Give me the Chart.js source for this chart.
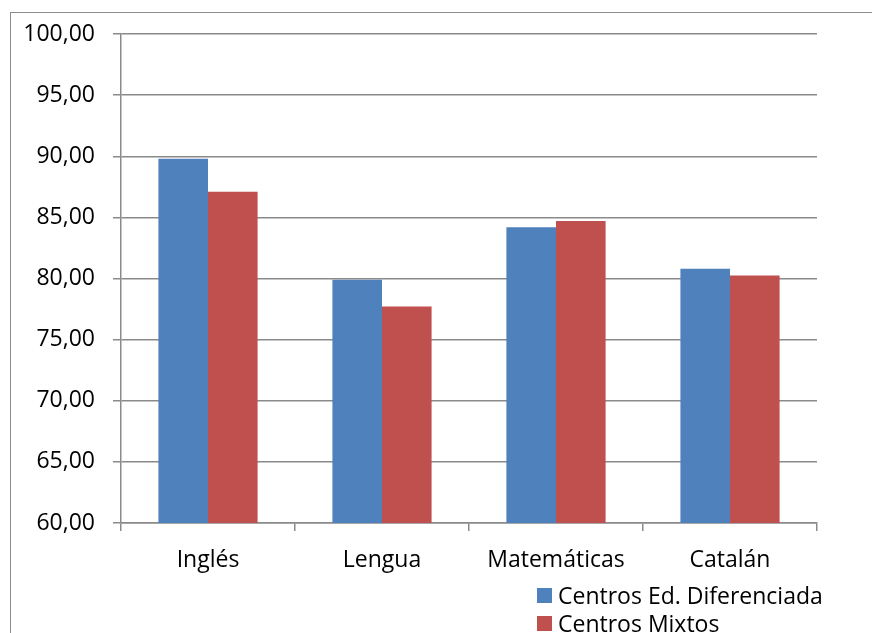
<!DOCTYPE html>
<html>
<head>
<meta charset="utf-8">
<script src="https://cdn.jsdelivr.net/npm/chart.js@4"></script>
<style>
  html, body { margin: 0; padding: 0; background: #fff; overflow: hidden; }
  #wrap { position: relative; width: 872px; height: 633px; }
  #frame { position: absolute; left: 10px; top: 12px; width: 900px; height: 700px; border: 1px solid #8c8c8c; box-sizing: border-box; }
  canvas { position: absolute; left: 0; top: 0; }
  #legend { position: absolute; left: 537px; top: 581px; font-family: "Open Sans", sans-serif; font-size: 23px; color: #000; line-height: 1; }
  .item { display: flex; align-items: center; height: 28px; }
  .box { width: 15px; height: 15px; margin-right: 6px; }
</style>
</head>
<body>
<div id="wrap">
  <div id="frame"></div>
  <canvas id="c" width="872" height="633"></canvas>
  <div id="legend"></div>
</div>
<script>
// Subjects and average scores per school type
const categories = ["Inglés", "Lengua", "Matemáticas", "Catalán"];
const seriesNames = ["Centros Ed. Diferenciada", "Centros Mixtos"];
const diferenciada = [89.8, 79.9, 84.2, 80.8];
const mixtos = [87.1, 77.7, 84.7, 80.25];
const colors = ["#4F81BD", "#C0504D"];
const yMin = 60, yMax = 100, yStep = 5;

const font = { family: "'Open Sans', sans-serif", size: 23 };
const gridColor = "#8a8a8a";

new Chart(document.getElementById("c"), {
  type: "bar",
  data: {
    labels: categories,
    datasets: [
      { label: seriesNames[0], data: diferenciada, backgroundColor: colors[0], borderWidth: 0 },
      { label: seriesNames[1], data: mixtos, backgroundColor: colors[1], borderWidth: 0 }
    ]
  },
  options: {
    responsive: false,
    animation: false,
    layout: { padding: { left: 0, top: 34, right: 55, bottom: 0 } },
    plugins: { legend: { display: false }, tooltip: { enabled: false } },
    datasets: { bar: { barPercentage: 1, categoryPercentage: 0.57 } },
    scales: {
      x: {
        grid: { display: true, drawOnChartArea: false, drawTicks: true, tickLength: 8, color: gridColor, lineWidth: 1.5, offset: true },
        border: { display: true, color: gridColor, width: 1.5 },
        ticks: { color: "#000", font: font, padding: 16 },
        afterFit: s => { s.height = 110; }
      },
      y: {
        min: yMin, max: yMax,
        grid: { color: gridColor, lineWidth: 1.5, tickLength: 8, drawTicks: true },
        border: { display: true, color: gridColor, width: 1.5 },
        ticks: {
          stepSize: yStep, color: "#000", font: font, padding: 18,
          callback: v => v.toFixed(2).replace(".", ",")
        },
        afterFit: s => { s.width = 121; }
      }
    }
  }
});

// Legend built from the series names and colours
const legend = document.getElementById("legend");
seriesNames.forEach((name, i) => {
  const row = document.createElement("div");
  row.className = "item";
  const box = document.createElement("span");
  box.className = "box";
  box.style.background = colors[i];
  const txt = document.createElement("span");
  txt.textContent = name;
  row.appendChild(box);
  row.appendChild(txt);
  legend.appendChild(row);
});
</script>
</body>
</html>
